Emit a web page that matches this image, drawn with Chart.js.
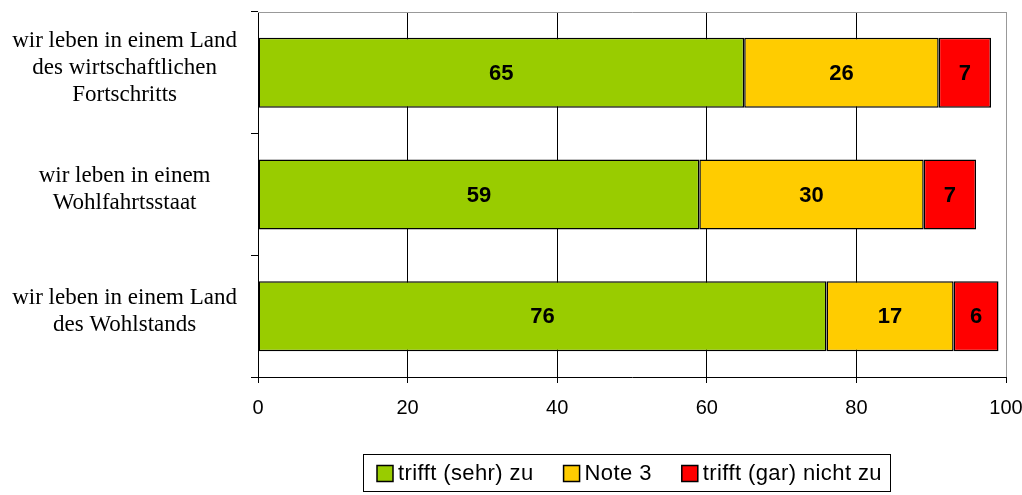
<!DOCTYPE html>
<html>
<head>
<meta charset="utf-8">
<script src="https://cdn.jsdelivr.net/npm/chart.js@4/dist/chart.umd.min.js"></script>
<style>
  html, body { margin: 0; padding: 0; background: #fff; }
  #wrap { width: 1022px; height: 495px; }
</style>
</head>
<body>
<div id="wrap"><canvas id="chart"></canvas></div>
<script>
// ─── Daten ───────────────────────────────────────────
const categories = [
  ['wir leben in einem Land', 'des wirtschaftlichen', 'Fortschritts'],
  ['wir leben in einem', 'Wohlfahrtsstaat'],
  ['wir leben in einem Land', 'des Wohlstands']
];
const seriesNames = ['trifft (sehr) zu', 'Note 3', 'trifft (gar) nicht zu'];
const zuValues = [65, 59, 76];
const note3Values = [26, 30, 17];
const nichtValues = [7, 7, 6];
const xTicks = [0, 20, 40, 60, 80, 100];

const colors = ['#99CC00', '#FFCC00', '#FF0000'];
const sans = '"Liberation Sans", Arial, sans-serif';

// ─── Plugins ─────────────────────────────────────────
const frame = {
  id: 'frame',
  beforeDatasetsDraw(chart) {
    const { ctx, chartArea: a } = chart;
    ctx.save();
    ctx.strokeStyle = '#999';
    ctx.lineWidth = 1;
    ctx.beginPath();
    ctx.moveTo(a.left, a.top + 0.5);
    ctx.lineTo(a.right + 0.5, a.top + 0.5);
    ctx.lineTo(a.right + 0.5, a.bottom);
    ctx.stroke();
    ctx.restore();
  },
  afterDraw(chart) {
    const { ctx } = chart;
    ctx.save();
    // Werte in den Balken
    ctx.font = 'bold 22px ' + sans;
    ctx.fillStyle = '#000';
    ctx.textAlign = 'center';
    ctx.textBaseline = 'middle';
    chart.data.datasets.forEach((ds, i) => {
      chart.getDatasetMeta(i).data.forEach((bar, j) => {
        const cx = (bar.x + bar.base) / 2;
        ctx.fillText(String(ds.data[j]), cx, bar.y + 1);
      });
    });

    // Legende (eigene Zeichnung, mit Rahmen)
    const top = 454, h = 37, cy = top + h / 2 + 1;
    const box = 16, gapBox = 5, gapItem = 30;
    ctx.font = '22px ' + sans;
    ctx.letterSpacing = '0.4px';
    ctx.textAlign = 'left';
    const widths = seriesNames.map(s => ctx.measureText(s).width);
    const inner = widths.reduce((s, w) => s + box + gapBox + w, 0) + gapItem * (seriesNames.length - 1);
    const left = 363, padL = 14;
    const right = left + padL + inner + 8;
    let x = left + padL;
    seriesNames.forEach((name, i) => {
      ctx.fillStyle = colors[i];
      ctx.fillRect(x, cy - box / 2, box, box);
      ctx.strokeStyle = '#000';
      ctx.lineWidth = 1.5;
      ctx.strokeRect(x, cy - box / 2, box, box);
      ctx.fillStyle = '#000';
      ctx.fillText(name, x + box + gapBox, cy);
      x += box + gapBox + widths[i] + gapItem;
    });
    ctx.strokeStyle = '#000';
    ctx.lineWidth = 1;
    ctx.strokeRect(left + 0.5, top + 0.5, Math.round(right - left), h);
    ctx.restore();
  }
};

// ─── Diagramm ────────────────────────────────────────
const allValues = [zuValues, note3Values, nichtValues];
new Chart(document.getElementById('chart'), {
  type: 'bar',
  data: {
    labels: categories,
    datasets: allValues.map((vals, i) => ({
      label: seriesNames[i],
      data: vals,
      backgroundColor: colors[i],
      borderColor: '#000',
      borderWidth: 1.5,
      borderSkipped: false,
      barPercentage: 0.575,
      categoryPercentage: 1
    }))
  },
  options: {
    indexAxis: 'y',
    responsive: true,
    maintainAspectRatio: false,
    animation: false,
    layout: { padding: { left: 0, right: 16, top: 12, bottom: 0 } },
    plugins: {
      tooltip: { enabled: false },
      legend: { display: false }
    },
    scales: {
      x: {
        stacked: true,
        min: 0,
        max: 100,
        afterBuildTicks: (axis) => { axis.ticks = xTicks.map(v => ({ value: v })); },
        afterFit: (axis) => {
          axis.height = 118;
          axis.paddingLeft = 0;
          axis.paddingRight = 0;
        },
        border: { color: '#000', width: 1 },
        grid: {
          color: (c) => c.tick && c.tick.value === 100 ? '#999' : '#000',
          tickColor: '#000',
          tickLength: 6,
          lineWidth: 1
        },
        ticks: {
          color: '#000',
          padding: 13,
          font: { family: sans, size: 20 }
        }
      },
      y: {
        stacked: true,
        afterFit: (axis) => {
          axis.width = 258;
          axis.paddingTop = 0;
          axis.paddingBottom = 0;
        },
        border: { color: '#000', width: 1 },
        grid: {
          drawOnChartArea: false,
          offset: true,
          tickLength: 7,
          color: '#000'
        },
        ticks: {
          color: '#000',
          crossAlign: 'center',
          padding: 14,
          labelOffset: -5,
          font: { family: '"Liberation Serif", "Times New Roman", serif', size: 23, lineHeight: 1.19 }
        }
      }
    }
  },
  plugins: [frame]
});
</script>
</body>
</html>
